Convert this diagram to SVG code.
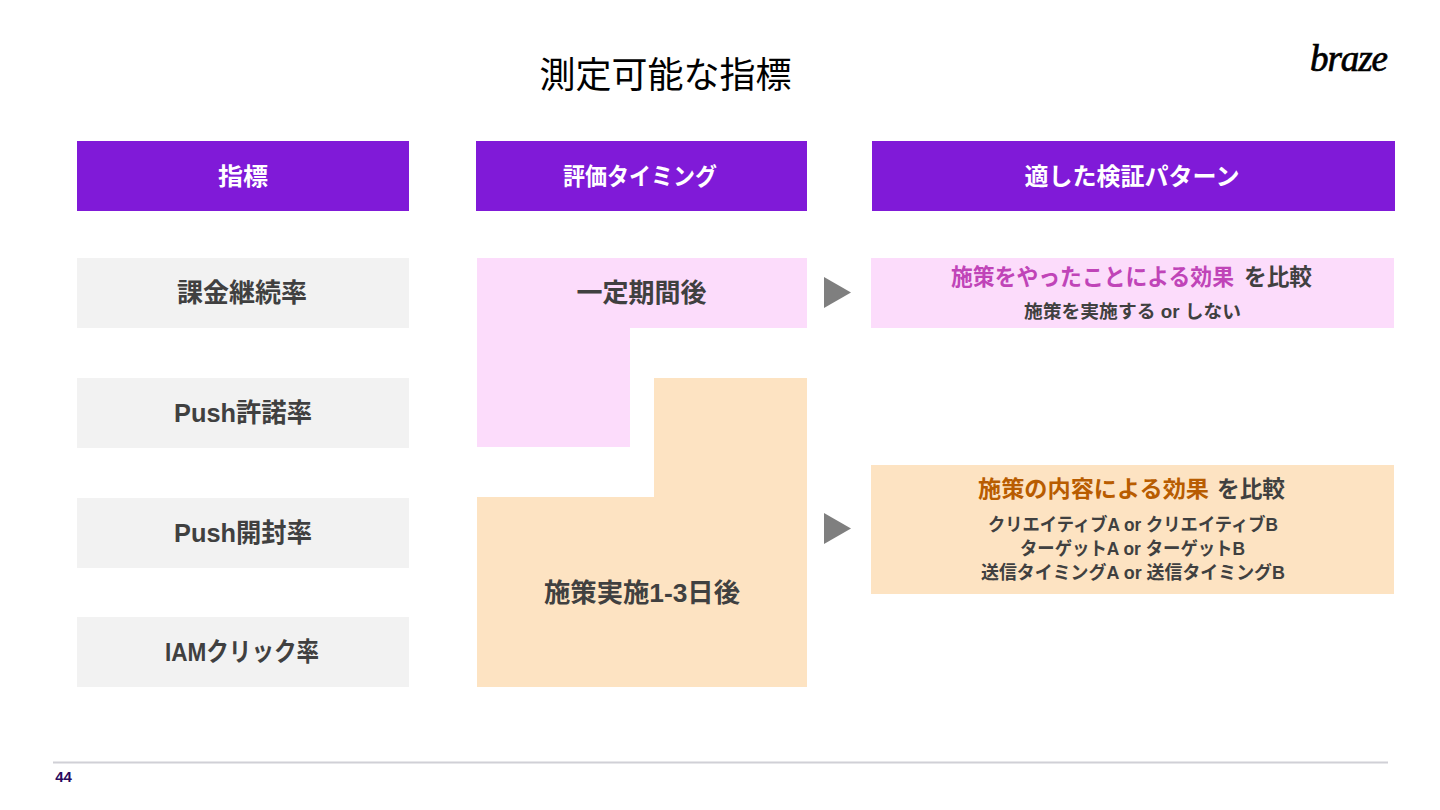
<svg xmlns="http://www.w3.org/2000/svg" width="1440" height="810" viewBox="0 0 1440 810">
<style>
text{font-family:"Liberation Sans","Noto Sans CJK JP",sans-serif;font-weight:700;fill:#404040;text-anchor:middle}
.h{fill:#fff;font-size:24px}
.m{font-size:26px}
.s{font-size:18.5px}
.t{font-size:22.5px;text-anchor:start}
.hd{fill:#801ad8}
.g{fill:#f2f2f2}
.p{fill:#fcdcfb}
.o{fill:#fde3c2}
.a{fill:#7f7f7f}
</style>
<rect width="1440" height="810" fill="#fff"/>
<text id="title" x="665.500" y="88" style="font-size:36px;font-weight:400;fill:#000">測定可能な指標</text>
<text id="logo" x="1349" y="71" textLength="78" style="font-family:'Liberation Serif',serif;font-style:italic;font-size:37px;font-weight:400;fill:#000;stroke:#000;stroke-width:.7">braze</text>
<g id="head1"><rect class="hd" x="77" y="141" width="332" height="70"/><text class="h" x="243" y="185" textLength="50" lengthAdjust="spacingAndGlyphs">指標</text></g>
<g id="head2"><rect class="hd" x="476" y="141" width="331" height="70"/><text class="h" x="640" y="185" textLength="154" lengthAdjust="spacingAndGlyphs">評価タイミング</text></g>
<g id="head3"><rect class="hd" x="872" y="141" width="523" height="70"/><text class="h" x="1132" y="185">適した検証パターン</text></g>
<g id="metric1"><rect class="g" x="77" y="258" width="332" height="70"/><text class="m" x="242" y="302">課金継続率</text></g>
<g id="metric2"><rect class="g" x="77" y="378" width="332" height="70"/><text class="m" x="243" y="422" textLength="138" lengthAdjust="spacingAndGlyphs">Push許諾率</text></g>
<g id="metric3"><rect class="g" x="77" y="498" width="332" height="70"/><text class="m" x="243" y="542" textLength="138" lengthAdjust="spacingAndGlyphs">Push開封率</text></g>
<g id="metric4"><rect class="g" x="77" y="617" width="332" height="70"/><text class="m" x="242" y="661" textLength="154" lengthAdjust="spacingAndGlyphs">IAMクリック率</text></g>
<g id="timing1"><path class="p" d="M477 258H807V328H630V447H477Z"/><text class="m" x="641.500" y="302">一定期間後</text></g>
<g id="timing2"><path class="o" d="M654 378H807V687H477V497H654Z"/><text class="m" x="642" y="602" textLength="196" lengthAdjust="spacingAndGlyphs">施策実施1-3日後</text></g>
<g id="connectors"><path class="a" d="M824 277L851 292.500L824 308Z"/><path class="a" d="M824 513L851 528.500L824 544Z"/></g>
<g id="pattern1"><rect class="p" x="871" y="258" width="523" height="70"/><text class="t" x="951" y="285" textLength="283" lengthAdjust="spacingAndGlyphs" style="fill:#c044b8">施策をやったことによる効果</text><text class="t" x="1244" y="285" textLength="68" lengthAdjust="spacingAndGlyphs">を比較</text><text class="s" x="1132.500" y="318" textLength="217" lengthAdjust="spacingAndGlyphs">施策を実施する or しない</text></g>
<g id="pattern2"><rect class="o" x="871" y="465" width="523" height="129"/><text class="t" x="978" y="497" textLength="231" lengthAdjust="spacingAndGlyphs" style="fill:#b85c00">施策の内容による効果</text><text class="t" x="1217" y="497" textLength="68" lengthAdjust="spacingAndGlyphs">を比較</text><text class="s" x="1133" y="531" textLength="290" lengthAdjust="spacingAndGlyphs">クリエイティブA or クリエイティブB</text><text class="s" x="1132.500" y="555" textLength="225" lengthAdjust="spacingAndGlyphs">ターゲットA or ターゲットB</text><text class="s" x="1133" y="579" textLength="304" lengthAdjust="spacingAndGlyphs">送信タイミングA or 送信タイミングB</text></g>
<line x1="53" y1="762.500" x2="1388" y2="762.500" stroke="#d0d0d6" stroke-width="2"/>
<text id="page" x="63.500" y="782" style="font-size:15px;fill:#2a0a5e">44</text>
</svg>
